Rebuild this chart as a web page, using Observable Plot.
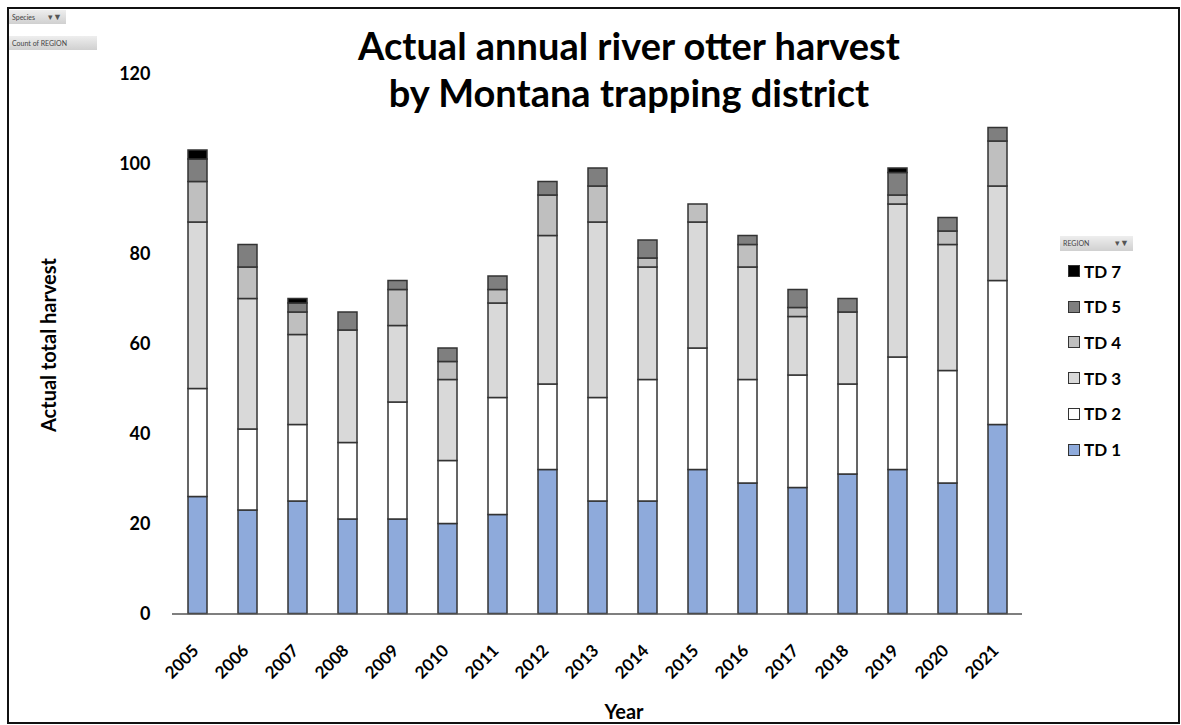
<!DOCTYPE html>
<html>
<head>
<meta charset="utf-8">
<script src="https://cdn.jsdelivr.net/npm/d3@7"></script>
<script src="https://cdn.jsdelivr.net/npm/@observablehq/plot@0.6"></script>
<style>
  html, body { margin: 0; padding: 0; background: #fff; }
  #wrap { position: relative; width: 1181px; height: 725px; overflow: hidden; font-family: Lato, "Open Sans", sans-serif; }
  #frame { position: absolute; left: 7px; top: 7px; width: 1169px; height: 713px; border: 2px solid #111; box-sizing: content-box; pointer-events: none; }
  #chart { position: absolute; left: 0; top: 0; }
  .title { position: absolute; left: 0; width: 1258px; text-align: center; font-weight: 700; font-size: 38px; color: #000; line-height: 1; }
  .btn { position: absolute; background: linear-gradient(#eee, #d0d0d0); font-size: 7px; color: #444; line-height: 14px; padding-left: 3px; box-sizing: border-box; white-space: nowrap; }
  .btn .f { position: absolute; right: 4px; top: 0; font-size: 9px; color: #555; }
  .leg { position: absolute; left: 1068px; height: 20px; display: flex; align-items: center; font-weight: 700; font-size: 17px; color: #000; }
  .leg .sw { width: 10px; height: 10px; border: 1.5px solid #333; margin-right: 4px; }
  .ylab { position: absolute; left: 48px; top: 345px; transform: translate(-50%, -50%) rotate(-90deg); font-weight: 700; font-size: 20px; white-space: nowrap; }
  .xlab { position: absolute; left: 624px; top: 711px; transform: translate(-50%, -50%); font-weight: 700; font-size: 20px; }
</style>
</head>
<body>
<div id="wrap">
  <div id="chart"></div>
  <div class="title" style="top:26px">Actual annual river otter harvest</div>
  <div class="title" style="top:73px">by Montana trapping district</div>
  <div class="btn" style="left:9px;top:10px;width:57px;height:14px">Species<span class="f">&#9662;&#9660;</span></div>
  <div class="btn" style="left:9px;top:36px;width:88px;height:14px">Count of REGION</div>
  <div class="btn" style="left:1060px;top:236px;width:73px;height:15px">REGION<span class="f">&#9662;&#9660;</span></div>
  <div id="legend"></div>
  <div class="ylab">Actual total harvest</div>
  <div class="xlab">Year</div>
  <div id="frame"></div>
</div>
<script>
const years = ["2005","2006","2007","2008","2009","2010","2011","2012","2013","2014","2015","2016","2017","2018","2019","2020","2021"];
const td1 = [26,23,25,21,21,20,22,32,25,25,32,29,28,31,32,29,42];
const td2 = [24,18,17,17,26,14,26,19,23,27,27,23,25,20,25,25,32];
const td3 = [37,29,20,25,17,18,21,33,39,25,28,25,13,16,34,28,21];
const td4 = [9,7,5,0,8,4,3,9,8,2,4,5,2,0,2,3,10];
const td5 = [5,5,2,4,2,3,3,3,4,4,0,2,4,3,5,3,3];
const td7 = [2,0,1,0,0,0,0,0,0,0,0,0,0,0,1,0,0];
const seriesNames = ["TD 1","TD 2","TD 3","TD 4","TD 5","TD 7"];
const seriesColors = ["#8eaadb","#ffffff","#d9d9d9","#bfbfbf","#7f7f7f","#000000"];
const yTicks = [0,20,40,60,80,100,120];

const seriesValues = [td1, td2, td3, td4, td5, td7];
const rows = [];
seriesNames.forEach((name, si) => {
  years.forEach((yr, i) => {
    const v = seriesValues[si][i];
    if (v > 0) rows.push({year: yr, district: name, count: v});
  });
});

const chart = Plot.plot({
  width: 1181,
  height: 725,
  marginLeft: 172,
  marginRight: 159,
  marginTop: 73.5,
  marginBottom: 111.5,
  style: {background: "transparent", fontFamily: "Lato, 'Open Sans', sans-serif"},
  x: {type: "band", domain: years, paddingInner: 0.62, paddingOuter: 0.31, align: 0.5},
  y: {domain: [0, 120]},
  color: {domain: seriesNames, range: seriesColors},
  marks: [
    Plot.axisY({ticks: yTicks, tickSize: 0, tickPadding: 22, fontSize: 18, fontWeight: "bold", label: null, fill: "#000"}),
    Plot.axisX({tickSize: 0, tickRotate: -45, tickPadding: 34, dx: -2, fontSize: 17, fontWeight: "bold", label: null, fill: "#000"}),
    Plot.barY(rows, Plot.stackY({
      x: "year", y: "count", fill: "district", z: "district",
      order: seriesNames,
      stroke: "#333", strokeWidth: 1.5
    })),
    Plot.ruleY([0], {stroke: "#555", strokeWidth: 1.5})
  ]
});
document.getElementById("chart").appendChild(chart);

const legend = document.getElementById("legend");
const legendOrder = seriesNames.slice().reverse();
legendOrder.forEach((name, i) => {
  const c = seriesColors[seriesNames.indexOf(name)];
  const d = document.createElement("div");
  d.className = "leg";
  d.style.top = (261 + i * 35.7) + "px";
  d.innerHTML = `<span class="sw" style="background:${c}"></span>${name}`;
  legend.appendChild(d);
});
</script>
</body>
</html>
